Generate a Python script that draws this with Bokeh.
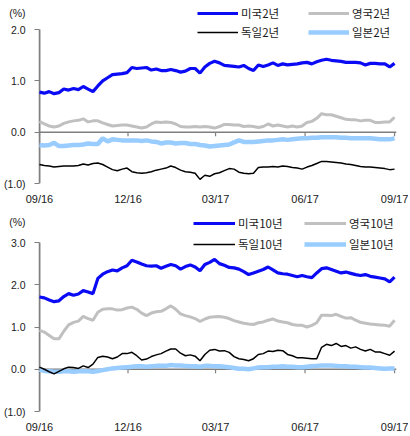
import pandas as pd
from bokeh.plotting import figure
from bokeh.models import (FixedTicker, DatetimeTickFormatter, CustomJSTickFormatter,
                          Legend, LegendItem, Range1d, Span)
from bokeh.layouts import column
from bokeh.embed import file_html
from bokeh.resources import INLINE

# ---------------- data ----------------
DATES = pd.date_range("2016-09-01", periods=74, freq="5D")
X_TICKS = ["2016-09-01", "2016-12-01", "2017-03-01", "2017-06-01", "2017-09-01"]
X_TICK_LABELS = ["09/16", "12/16", "03/17", "06/17", "09/17"]
Y_TICKS_2Y = [-1.0, 0.0, 1.0, 2.0]
Y_TICKS_10Y = [-1.0, 0.0, 1.0, 2.0, 3.0]
UNIT = "(%)"

US2 = [0.78, 0.76, 0.79, 0.75, 0.77, 0.84, 0.82, 0.85, 0.83, 0.89,
       0.84, 0.79, 0.90, 1.00, 1.06, 1.12, 1.13, 1.14, 1.16, 1.26,
       1.24, 1.25, 1.26, 1.21, 1.23, 1.20, 1.20, 1.22, 1.20, 1.17,
       1.19, 1.24, 1.24, 1.15, 1.27, 1.34, 1.38, 1.35, 1.30, 1.29,
       1.28, 1.27, 1.30, 1.24, 1.20, 1.31, 1.28, 1.31, 1.35, 1.30,
       1.33, 1.31, 1.32, 1.33, 1.35, 1.36, 1.33, 1.37, 1.40, 1.42,
       1.40, 1.39, 1.38, 1.36, 1.36, 1.36, 1.35, 1.31, 1.34, 1.34,
       1.33, 1.33, 1.27, 1.34]
UK2 = [0.21, 0.16, 0.12, 0.10, 0.12, 0.17, 0.20, 0.22, 0.23, 0.26,
       0.20, 0.22, 0.22, 0.18, 0.15, 0.12, 0.13, 0.14, 0.14, 0.12,
       0.10, 0.08, 0.10, 0.16, 0.20, 0.19, 0.20, 0.19, 0.16, 0.11,
       0.10, 0.10, 0.11, 0.10, 0.11, 0.10, 0.08, 0.11, 0.15, 0.15,
       0.14, 0.14, 0.11, 0.12, 0.11, 0.09, 0.11, 0.16, 0.12, 0.14,
       0.12, 0.10, 0.12, 0.10, 0.12, 0.19, 0.21, 0.27, 0.36, 0.34,
       0.34, 0.31, 0.28, 0.25, 0.24, 0.24, 0.22, 0.23, 0.23, 0.19,
       0.19, 0.20, 0.20, 0.29]
DE2 = [-0.63, -0.65, -0.66, -0.68, -0.67, -0.66, -0.66, -0.66, -0.65, -0.62,
       -0.64, -0.61, -0.60, -0.63, -0.68, -0.73, -0.75, -0.72, -0.70, -0.77,
       -0.79, -0.80, -0.79, -0.77, -0.74, -0.72, -0.70, -0.66, -0.69, -0.74,
       -0.77, -0.78, -0.80, -0.92, -0.84, -0.86, -0.81, -0.79, -0.75, -0.71,
       -0.72, -0.78, -0.80, -0.81, -0.80, -0.69, -0.68, -0.68, -0.67, -0.68,
       -0.66, -0.67, -0.69, -0.70, -0.72, -0.68, -0.65, -0.61, -0.57, -0.57,
       -0.58, -0.59, -0.60, -0.62, -0.63, -0.65, -0.67, -0.68, -0.68, -0.69,
       -0.70, -0.71, -0.73, -0.72]
JP2 = [-0.25, -0.26, -0.25, -0.21, -0.27, -0.27, -0.26, -0.25, -0.25, -0.24,
       -0.22, -0.23, -0.23, -0.12, -0.18, -0.14, -0.15, -0.16, -0.16, -0.16,
       -0.16, -0.17, -0.16, -0.18, -0.19, -0.22, -0.20, -0.20, -0.22, -0.21,
       -0.21, -0.23, -0.23, -0.25, -0.26, -0.28, -0.27, -0.26, -0.25, -0.24,
       -0.20, -0.16, -0.19, -0.19, -0.19, -0.18, -0.17, -0.16, -0.16, -0.15,
       -0.14, -0.15, -0.14, -0.13, -0.12, -0.12, -0.11, -0.11, -0.10, -0.10,
       -0.10, -0.10, -0.11, -0.11, -0.12, -0.12, -0.12, -0.12, -0.12, -0.13,
       -0.14, -0.14, -0.14, -0.12]

US10 = [1.71, 1.69, 1.64, 1.60, 1.62, 1.72, 1.79, 1.75, 1.78, 1.86,
        1.83, 1.79, 2.15, 2.25, 2.31, 2.35, 2.33, 2.40, 2.45, 2.58,
        2.54, 2.49, 2.45, 2.44, 2.45, 2.39, 2.44, 2.48, 2.45, 2.37,
        2.43, 2.47, 2.42, 2.33, 2.48, 2.53, 2.60, 2.50, 2.46, 2.41,
        2.40, 2.37, 2.31, 2.24, 2.28, 2.32, 2.36, 2.42, 2.35, 2.28,
        2.26, 2.25, 2.22, 2.19, 2.22, 2.19, 2.17, 2.28, 2.38, 2.40,
        2.36, 2.32, 2.28, 2.30, 2.27, 2.24, 2.22, 2.24, 2.20, 2.18,
        2.16, 2.14, 2.07, 2.18]
UK10 = [0.92, 0.88, 0.80, 0.72, 0.72, 0.90, 1.05, 1.11, 1.14, 1.25,
        1.20, 1.16, 1.35, 1.42, 1.43, 1.43, 1.40, 1.41, 1.45, 1.47,
        1.42, 1.33, 1.27, 1.33, 1.36, 1.37, 1.43, 1.50, 1.42, 1.31,
        1.27, 1.24, 1.20, 1.13, 1.19, 1.23, 1.24, 1.25, 1.23, 1.20,
        1.15, 1.12, 1.09, 1.07, 1.06, 1.10, 1.12, 1.16, 1.19, 1.14,
        1.12, 1.10, 1.06, 1.04, 1.04, 1.00, 1.04, 1.10, 1.28, 1.28,
        1.27, 1.30, 1.25, 1.21, 1.22, 1.16, 1.11, 1.09, 1.07, 1.06,
        1.05, 1.04, 1.02, 1.16]
DE10 = [0.05, 0.00, -0.06, -0.11, -0.05, 0.01, 0.05, 0.04, 0.02, 0.08,
        0.04, 0.12, 0.28, 0.31, 0.29, 0.25, 0.29, 0.37, 0.37, 0.40,
        0.32, 0.22, 0.24, 0.30, 0.34, 0.37, 0.43, 0.48, 0.48, 0.38,
        0.32, 0.34, 0.31, 0.20, 0.35, 0.45, 0.47, 0.43, 0.44, 0.40,
        0.30, 0.25, 0.23, 0.20, 0.25, 0.35, 0.37, 0.43, 0.42, 0.45,
        0.44, 0.35, 0.32, 0.27, 0.27, 0.26, 0.25, 0.25, 0.52, 0.59,
        0.56, 0.61, 0.54, 0.56, 0.50, 0.53, 0.47, 0.43, 0.47, 0.41,
        0.41, 0.37, 0.33, 0.43]
JP10 = [-0.01, -0.04, -0.05, -0.06, -0.06, -0.05, -0.05, -0.06, -0.05, -0.05,
        -0.05, -0.06, -0.04, -0.02, 0.00, 0.02, 0.03, 0.04, 0.05, 0.06,
        0.07, 0.07, 0.06, 0.07, 0.08, 0.08, 0.08, 0.10, 0.09, 0.09,
        0.08, 0.07, 0.07, 0.06, 0.08, 0.08, 0.07, 0.07, 0.06, 0.05,
        0.03, 0.01, 0.01, 0.00, 0.02, 0.04, 0.05, 0.05, 0.06, 0.06,
        0.07, 0.06, 0.06, 0.05, 0.05, 0.06, 0.07, 0.08, 0.09, 0.09,
        0.09, 0.08, 0.07, 0.07, 0.06, 0.06, 0.05, 0.04, 0.04, 0.03,
        0.02, 0.01, 0.02, 0.02]

LABELS_2Y = ["미국2년", "영국2년", "독일2년", "일본2년"]
LABELS_10Y = ["미국10년", "영국10년", "독일10년", "일본10년"]

# ---------------- style ----------------
C_US, C_UK, C_DE, C_JP = "#0A0AF5", "#C0C0C0", "#000000", "#99CCFF"
W_US, W_UK, W_DE, W_JP = 3.2, 3.0, 1.5, 4.5
AXIS_C = "#7F7F7F"
TEXT_C = "#1A1A1A"
FONT = "Liberation Sans"
KFONT = "Noto Sans CJK KR"
FIG_W = 408
B_LEFT, B_RIGHT = 35, 12
TICK_PX = 4
DAY_MS = 86400000


def ms(d):
    return pd.Timestamp(d).value // 10**6


def make_chart(series, labels, y_ticks, height, b_bottom, pad_top, unit_px,
               leg_x, leg_y1, leg_y2, glyph_w):
    y_start, y_top = y_ticks[0], y_ticks[-1]
    frame_h = height - b_bottom
    per_px = (y_top - y_start) / (frame_h - pad_top)
    y_end = y_top + pad_top * per_px
    unit_pos = y_end - unit_px * per_px

    x0 = ms(X_TICKS[0])
    p = figure(width=FIG_W, height=height, x_axis_type="datetime",
               x_range=Range1d(x0 - DAY_MS, ms(X_TICKS[-1]) + 2 * DAY_MS),
               y_range=Range1d(y_start, y_end),
               output_backend="svg", toolbar_location=None,
               min_border_left=B_LEFT, min_border_right=B_RIGHT,
               min_border_top=0, min_border_bottom=b_bottom)
    p.outline_line_color = None
    p.grid.visible = False
    p.background_fill_color = "white"
    p.border_fill_color = "white"

    tick_ms = [ms(d) for d in X_TICKS]
    fmt = DatetimeTickFormatter(days="%m/%y", months="%m/%y", years="%m/%y",
                                hours="%m/%y", hourmin="%m/%y")

    xl = p.xaxis[0]
    xl.ticker = FixedTicker(ticks=tick_ms)
    xl.formatter = fmt
    xl.axis_line_color = None
    xl.major_tick_line_color = None
    xl.minor_tick_line_color = None
    xl.major_tick_out = 0
    xl.major_tick_in = 0
    xl.major_label_standoff = 9
    xl.major_label_text_font = FONT
    xl.major_label_text_font_size = "11px"
    xl.major_label_text_color = TEXT_C

    # y axis: value labels + unit label "(%)" on top; tick marks as minor ticks
    ya = p.yaxis[0]
    ya.ticker = FixedTicker(ticks=list(y_ticks) + [unit_pos], minor_ticks=list(y_ticks))
    ya.formatter = CustomJSTickFormatter(args=dict(top=y_top, unit=UNIT), code="""
        if (tick > top + 1e-6) return unit;
        const v = Math.abs(tick).toFixed(1);
        return tick < -1e-9 ? "(" + v + ")" : v;
    """)
    ya.axis_line_color = None
    ya.major_tick_line_color = None
    ya.major_tick_out = TICK_PX
    ya.major_tick_in = 0
    ya.minor_tick_line_color = AXIS_C
    ya.minor_tick_line_width = 1.2
    ya.minor_tick_out = TICK_PX
    ya.minor_tick_in = 1
    ya.major_label_standoff = 9
    ya.major_label_text_font = FONT
    ya.major_label_text_font_size = "10.5px"
    ya.major_label_text_color = TEXT_C

    # vertical axis line (only over the value range) and zero line with date ticks
    p.segment(x0=[x0], x1=[x0], y0=[y_start], y1=[y_top], line_color=AXIS_C,
              line_width=2, level="underlay")
    tick_len = TICK_PX * per_px
    p.add_layout(Span(location=0, dimension="width", line_color=AXIS_C,
                      line_width=1.5, level="underlay"))
    p.segment(x0=tick_ms, x1=tick_ms, y0=[0] * len(tick_ms),
              y1=[-tick_len] * len(tick_ms), line_color=AXIS_C,
              line_width=1.2, level="underlay")

    us, uk, de, jp = series
    r_uk = p.line(DATES, uk, line_color=C_UK, line_width=W_UK)
    r_jp = p.line(DATES, jp, line_color=C_JP, line_width=W_JP)
    r_de = p.line(DATES, de, line_color=C_DE, line_width=W_DE)
    r_us = p.line(DATES, us, line_color=C_US, line_width=W_US)

    def legend(items, y):
        lg = Legend(items=items, orientation="horizontal", location=(leg_x, y),
                    border_line_color=None, background_fill_alpha=0,
                    padding=0, margin=0, spacing=4,
                    glyph_width=glyph_w, glyph_height=16, label_height=16,
                    label_width=63 - (glyph_w - 41), label_standoff=3,
                    label_text_font=KFONT, label_text_font_size="11.5px",
                    label_text_color=TEXT_C)
        p.add_layout(lg)

    legend([LegendItem(label=labels[0], renderers=[r_us]),
            LegendItem(label=labels[1], renderers=[r_uk])], leg_y1)
    legend([LegendItem(label=labels[2], renderers=[r_de]),
            LegendItem(label=labels[3], renderers=[r_jp])], leg_y2)
    return p


# top chart: page y 0..215, frame 0..183, "2.0" at y=29
p1 = make_chart((US2, UK2, DE2, JP2), LABELS_2Y, Y_TICKS_2Y,
                height=215, b_bottom=32, pad_top=29, unit_px=12,
                leg_x=159, leg_y1=162, leg_y2=143, glyph_w=41)
# bottom chart: page y 215..436, frame 215..411, "3.0" at y=242
p2 = make_chart((US10, UK10, DE10, JP10), LABELS_10Y, Y_TICKS_10Y,
                height=221, b_bottom=25, pad_top=27, unit_px=6,
                leg_x=155, leg_y1=180, leg_y2=159, glyph_w=42)

layout = column(p1, p2, spacing=0)
open("out.html", "w").write(file_html(layout, INLINE))
